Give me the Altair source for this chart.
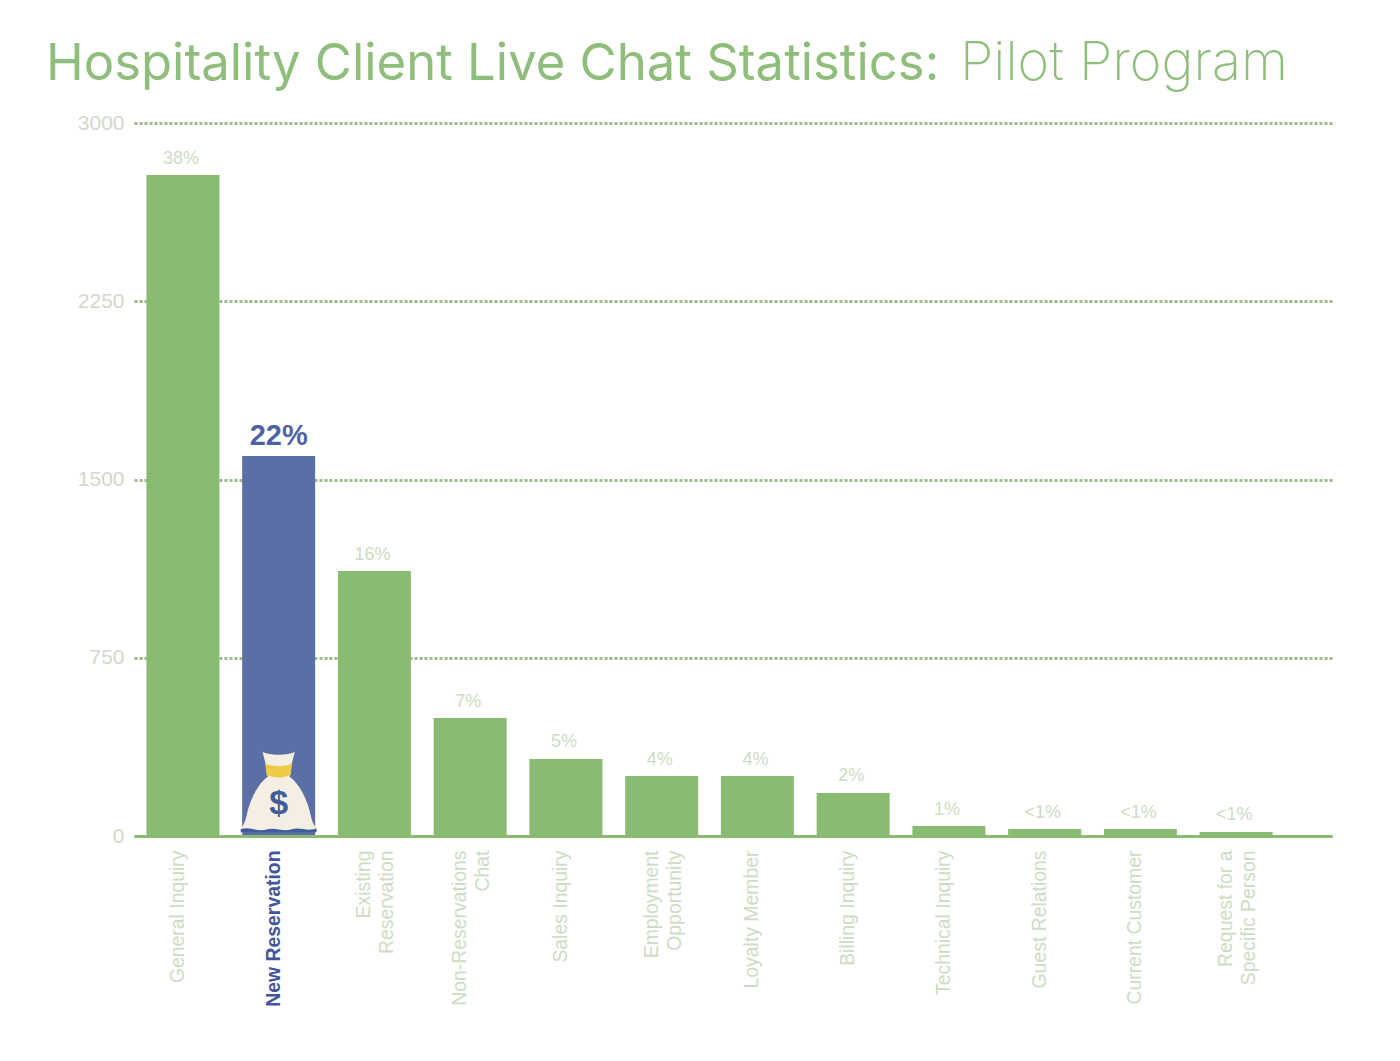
import altair as alt
import pandas as pd

categories = ["General Inquiry", "New Reservation", "Existing|Reservation", "Non-Reservations|Chat",
              "Sales Inquiry", "Employment|Opportunity", "Loyalty Member", "Billing Inquiry",
              "Technical Inquiry", "Guest Relations", "Current Customer", "Request for a|Specific Person"]
values = [2781, 1599, 1115, 496, 324, 252, 252, 181, 42, 29, 29, 17]
percents = ["38%", "22%", "16%", "7%", "5%", "4%", "4%", "2%", "1%", "<1%", "<1%", "<1%"]
y_ticks = [0, 750, 1500, 2250, 3000]
highlight = "New Reservation"
bag_anchor = [185]

GREEN = "#89bb72"
BLUE = "#5b6ea6"
LABEL = "#cddcc2"
FAINT = "#d0d8ca"
GRID = "#98bd88"
TITLE = "#8fbd7b"

df = pd.DataFrame({"category": categories, "value": values, "pct": percents})
is_hl = f"datum.category == '{highlight}'"

x = alt.X("category:N", sort=categories, title=None,
          scale=alt.Scale(paddingInner=0.24, paddingOuter=0.376, align=0.174),
          axis=alt.Axis(labelAngle=270, labelAlign="right", labelBaseline="middle", labelPadding=14,
                        labelFont="Liberation Sans", labelFontSize=19.4, labelLineHeight=23,
                        labelExpr="split(datum.label, '|')", labelLimit=400, labelOverlap=False,
                        labelOffset={"condition": {"test": "indexof(datum.label, '|') >= 0", "value": -10}, "value": -5},
                        labelColor={"condition": {"test": "datum.label == '%s'" % highlight, "value": "#42569c"}, "value": LABEL},
                        labelFontWeight={"condition": {"test": "datum.label == '%s'" % highlight, "value": "bold"}, "value": "normal"},
                        ticks=False, domain=True, domainColor=GREEN, domainWidth=3, zindex=1))
y = alt.Y("value:Q", title=None, scale=alt.Scale(domain=[0, 3000], nice=False),
          axis=alt.Axis(values=y_ticks, format="d", labelFont="Liberation Sans", labelFontSize=21, labelColor=FAINT,
                        labelPadding=10, ticks=False, domain=False, grid=True, gridColor=GRID,
                        gridDash=[3, 2], gridWidth=3, zindex=0))

base = alt.Chart(df)
bars = base.mark_bar(size=73).encode(
    x=x, y=y, color=alt.condition(is_hl, alt.value(BLUE), alt.value(GREEN)))
pct = base.transform_filter("!(%s)" % is_hl).mark_text(
    dy=-16.5, dx=-2, font="Liberation Sans", fontSize=18, color=LABEL).encode(x=x, y=y, text="pct:N")
pct_hl = base.transform_filter(is_hl).mark_text(
    dy=-20, font="Liberation Sans", fontSize=29, fontWeight="bold", color="#4f62a6").encode(x=x, y=y, text="pct:N")

bag_df = pd.DataFrame({"category": [highlight], "value": bag_anchor})
BAG = ("M -0.40 -1 C -0.25 -0.90 0.25 -0.90 0.40 -1 L 0.33 -0.72 L 0.27 -0.38 "
       "C 0.50 -0.22 0.72 0.18 0.80 0.60 C 0.83 0.74 0.88 0.84 0.94 0.90 L 0.75 0.98 L -0.75 0.98 L -0.94 0.90 "
       "C -0.88 0.84 -0.83 0.74 -0.80 0.60 C -0.72 0.18 -0.50 -0.22 -0.27 -0.38 L -0.33 -0.72 Z")
BAND = "M -0.33 -0.70 C -0.15 -0.62 0.15 -0.62 0.33 -0.70 L 0.30 -0.42 C 0.12 -0.34 -0.12 -0.34 -0.30 -0.42 Z"
WAVE = ("M -0.94 0.92 C -0.7 0.84 -0.55 1.0 -0.3 0.93 C -0.1 0.87 0.1 0.99 0.3 0.93 "
        "C 0.55 0.85 0.7 1.0 0.94 0.90 L 0.94 1 L -0.94 1 Z")
bag_layers = [
    alt.Chart(bag_df).mark_point(shape=s, size=6500, filled=True, opacity=1, color=c, strokeWidth=0).encode(x=x, y=y)
    for s, c in [(BAG, "#f4efe2"), (BAND, "#eecb45"), (WAVE, "#3f5c9c")]
]
dollar = alt.Chart(bag_df).mark_text(text="$", font="Liberation Sans", fontSize=34, color="#3f5c9c",
                                     fontWeight="bold", dy=12).encode(x=x, y=y)

title_df = pd.DataFrame({"t": ["x"]})
t1 = alt.Chart(title_df).mark_text(align="left", baseline="alphabetic", font="Inter", fontSize=50.8,
                                   fontWeight=400, color=TITLE).encode(
    x=alt.value(-88), y=alt.value(-43), text=alt.value("Hospitality Client Live Chat Statistics:"))
t2 = alt.Chart(title_df).mark_text(align="left", baseline="alphabetic", font="Inter", fontSize=54,
                                   fontWeight=200, color=TITLE).encode(
    x=alt.value(826), y=alt.value(-43), text=alt.value("Pilot Program"))

chart = alt.layer(bars, pct, pct_hl, *bag_layers, dollar, t1, t2).resolve_scale(x="shared", y="shared").properties(
    width=1198, height=713, autosize="none",
    padding={"left": 126, "top": 115, "right": 60, "bottom": 215},
    background="white",
).configure_view(stroke=None)

chart.save("out.html", embed_options={"renderer": "svg", "actions": False})
